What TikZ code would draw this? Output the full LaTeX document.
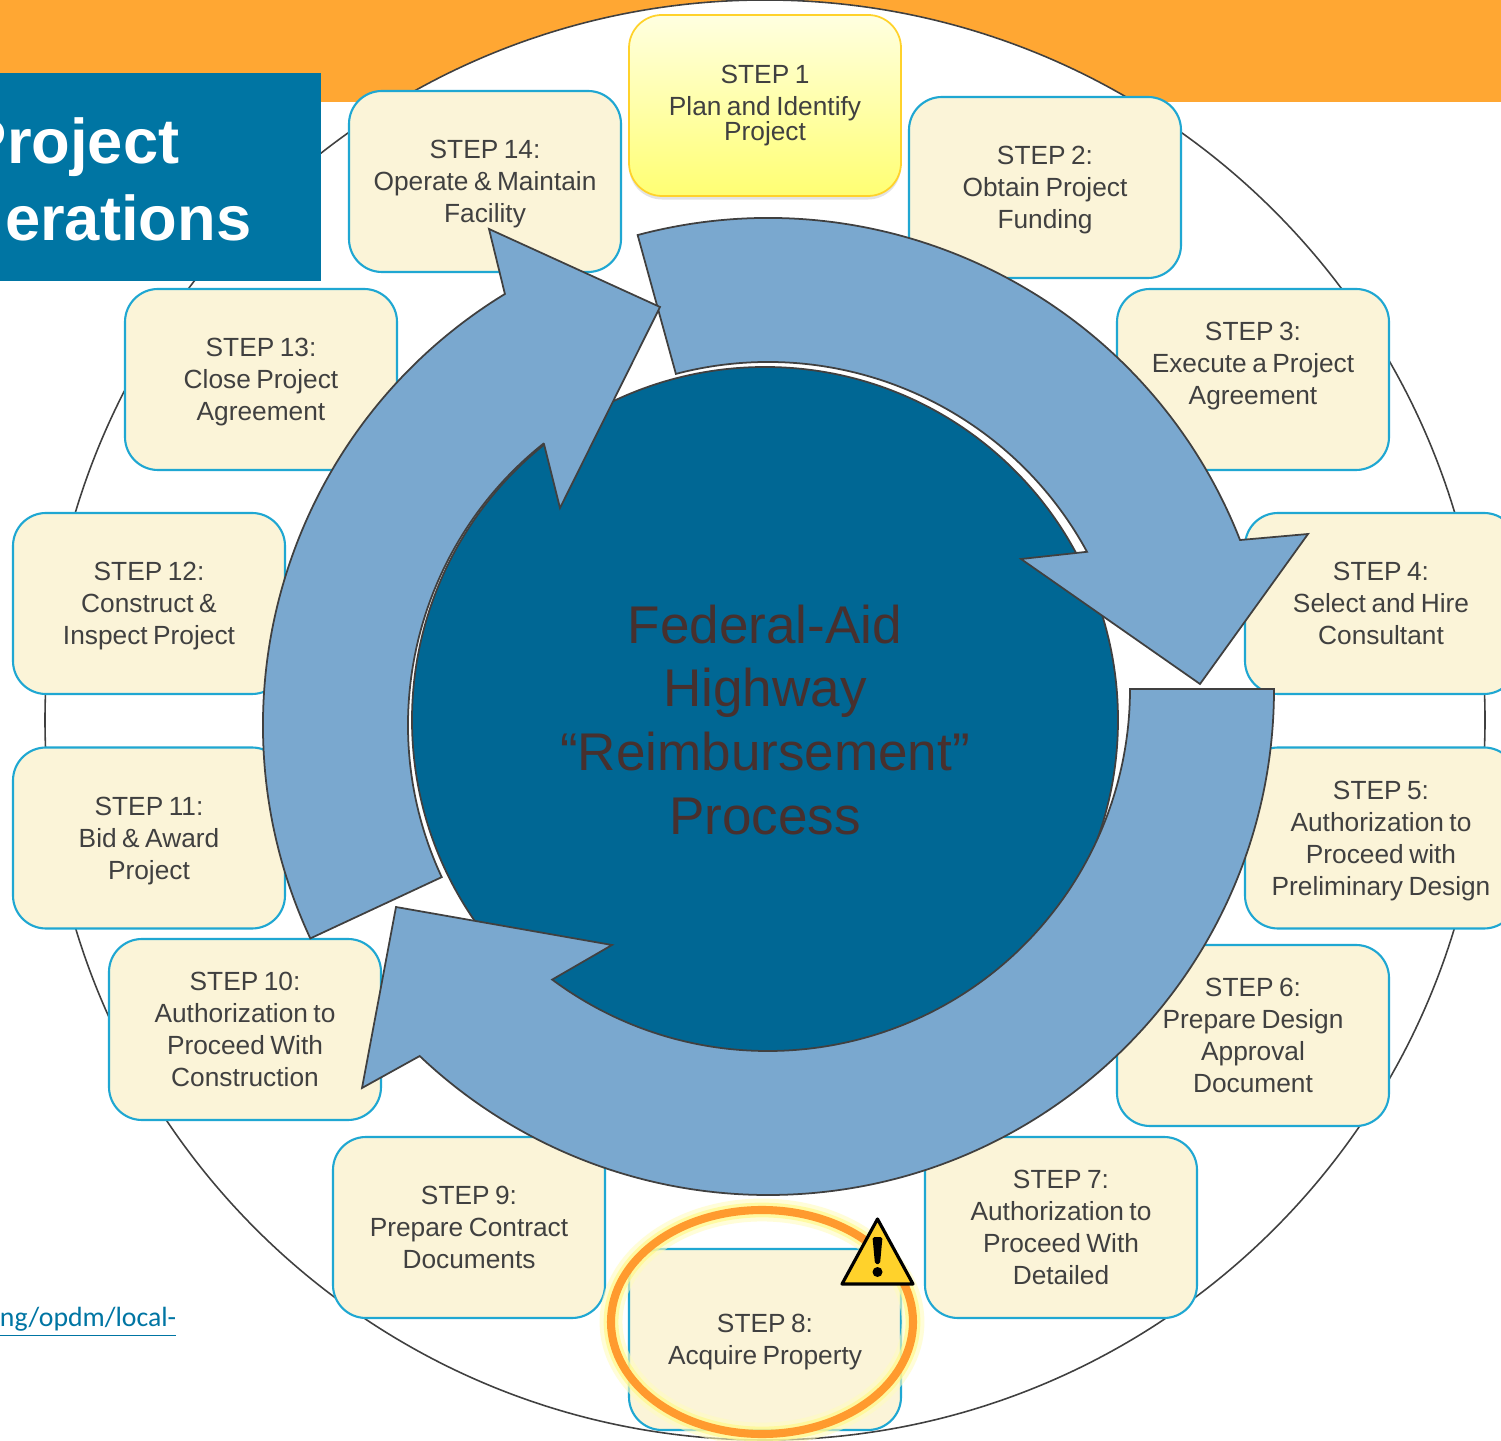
\documentclass[tikz,border=0pt]{standalone}
\usepackage{fontspec}
\setmainfont[WordSpace=0.75]{Liberation Sans}
\newfontfamily\linkfont{Carlito}
\usepackage{xcolor}
\usetikzlibrary{shadows}
\definecolor{barorange}{HTML}{FFA733}
\definecolor{titleblue}{HTML}{0075A3}
\definecolor{ringblue}{HTML}{7AA8CF}
\definecolor{coreblue}{HTML}{006794}
\definecolor{boxcream}{HTML}{FBF4D8}
\definecolor{boxline}{HTML}{1FA7D2}
\definecolor{inkgrey}{HTML}{404040}
\definecolor{coretext}{HTML}{47302E}
\definecolor{ringorange}{HTML}{FF9A2E}
\definecolor{warnyellow}{HTML}{FFD22B}
\tikzset{
    stepbox/.style={draw=boxline, line width=0.6pt, fill=boxcream, rounded corners=0.33cm,
        minimum width=2.72cm, minimum height=1.81cm, inner sep=0pt, align=center, text depth=0pt,
        text=inkgrey, font=\fontsize{7.48}{9.1}\selectfont},
    ringarrow/.style={draw=inkgrey, line width=0.5pt, fill=ringblue, line join=miter},
    titletext/.style={anchor=base east, inner sep=0pt, text=white, font=\fontsize{18}{20}\selectfont\bfseries},
}

\begin{document}
\begin{tikzpicture}
    \useasboundingbox (0, 0) rectangle (15.01, 14.40);
    \clip (0, 0) rectangle (15.01, 14.40);

    % Orange bar and outer circle
    \fill[barorange] (0, 13.38) rectangle (15.01, 14.40);
    \draw[inkgrey, line width=0.45pt, fill=white] (7.65, 7.20) circle (7.20);

    % Core
    \draw[inkgrey, line width=0.5pt, fill=coreblue] (7.65, 7.20) circle (3.53);

    % Steps around the circle
    \node[stepbox, draw=warnyellow, line width=0.5pt, text depth=1.7pt, top color=white!60!yellow!30, bottom color=yellow!55, drop shadow={shadow xshift=0pt, shadow yshift=-1pt, opacity=0.22}] (step1) at (7.65, 13.345) {STEP 1\\Plan and Identify\\[-2pt]Project};
    \node[stepbox] (step2) at (10.45, 12.525) {STEP 2:\\Obtain Project\\Funding};
    \node[stepbox] (step3) at (12.53, 10.605) {STEP 3:\\Execute a Project\\Agreement\\\mbox{}};
    \node[stepbox] (step4) at (13.81, 8.365) {STEP 4:\\Select and Hire\\Consultant};
    \node[stepbox] (step5) at (13.81, 6.02) {STEP 5:\\Authorization to\\Proceed with\\Preliminary Design};
    \node[stepbox] (step6) at (12.53, 4.045) {STEP 6:\\Prepare Design\\Approval\\Document};
    \node[stepbox] (step7) at (10.61, 2.125) {STEP 7:\\Authorization to\\Proceed With\\Detailed};
    \node[stepbox] (step8) at (7.65, 1.005) {STEP 8:\\Acquire Property};
    \node[stepbox] (step9) at (4.69, 2.125) {STEP 9:\\Prepare Contract\\Documents};
    \node[stepbox] (step10) at (2.45, 4.105) {STEP 10:\\Authorization to\\Proceed With\\Construction};
    \node[stepbox] (step11) at (1.49, 6.02) {STEP 11:\\Bid \& Award\\Project};
    \node[stepbox] (step12) at (1.49, 8.365) {STEP 12:\\Construct \&\\Inspect Project};
    \node[stepbox] (step13) at (2.61, 10.605) {STEP 13:\\Close Project\\Agreement};
    \node[stepbox] (step14) at (4.85, 12.585) {STEP 14:\\Operate \& Maintain\\Facility};

    % Ring arrows
    \coordinate (ringa) at (7.68, 7.15);
    \coordinate (ringb) at (7.68, 7.51);
    \draw[ringarrow] ([shift={(ringa)}] 104.9:5.07) arc[start angle=104.9, end angle=21.4, radius=5.07]
        -- (13.08, 9.06) -- (12.00, 7.56) -- (10.21, 8.81)
        -- ([shift={(ringa)}] 28.5:3.63) arc[start angle=28.5, end angle=104.7, radius=3.63] -- cycle;
    \draw[ringarrow] ([shift={(ringb)}] 0:5.06) arc[start angle=0, end angle=-133.5, radius=5.06]
        -- (3.62, 3.52) -- (3.96, 5.33) -- (6.12, 4.95)
        -- ([shift={(ringb)}] -126.6:3.62) arc[start angle=-126.6, end angle=0, radius=3.62] -- cycle;
    \draw[ringarrow] ([shift={(ringa)}] 205:5.05) arc[start angle=205, end angle=121.4, radius=5.05]
        -- (4.89, 12.11) -- (6.60, 11.33) -- (5.60, 9.32) -- (5.44, 9.96)
        -- ([shift={(ringa)}] 128.6:3.60) arc[start angle=128.6, end angle=205, radius=3.60] -- cycle;

    % Core text
    \node[align=center, text=coretext, font=\fontsize{15.1}{18.2}\selectfont] (coretitle) at (7.65, 7.20) {Federal-Aid\\Highway\\“Reimbursement”\\Process};

    % Title block
    \fill[titleblue] (0, 11.59) rectangle (3.21, 13.67);
    \node[titletext] (titleone) at (1.80, 12.76) {Project};
    \node[titletext] (titletwo) at (2.52, 11.99) {erations};

    % Link
    \node[anchor=base east, inner sep=0pt, text=titleblue, font=\linkfont\fontsize{7.9}{10}\selectfont] (linktext) at (1.77, 1.14) {\underline{ng/opdm/local-}};

    % Highlight on step 8
    \draw[yellow!25, line width=6.5pt, opacity=0.6] (7.62, 1.18) ellipse (1.51 and 1.12);
    \draw[yellow!45, line width=4.2pt, opacity=0.7] (7.62, 1.18) ellipse (1.51 and 1.12);
    \draw[ringorange, line width=2.3pt] (7.62, 1.18) ellipse (1.51 and 1.12);

    % Warning sign
    \draw[black, line width=0.9pt, line join=round, fill=warnyellow] (8.775, 2.21) -- (9.13, 1.56) -- (8.42, 1.56) -- cycle;
    \fill[black, rounded corners=0.5pt] (8.725, 2.03) -- (8.825, 2.03) -- (8.80, 1.76) -- (8.75, 1.76) -- cycle;
    \fill[black] (8.775, 1.68) circle (0.05);
\end{tikzpicture}
\end{document}
